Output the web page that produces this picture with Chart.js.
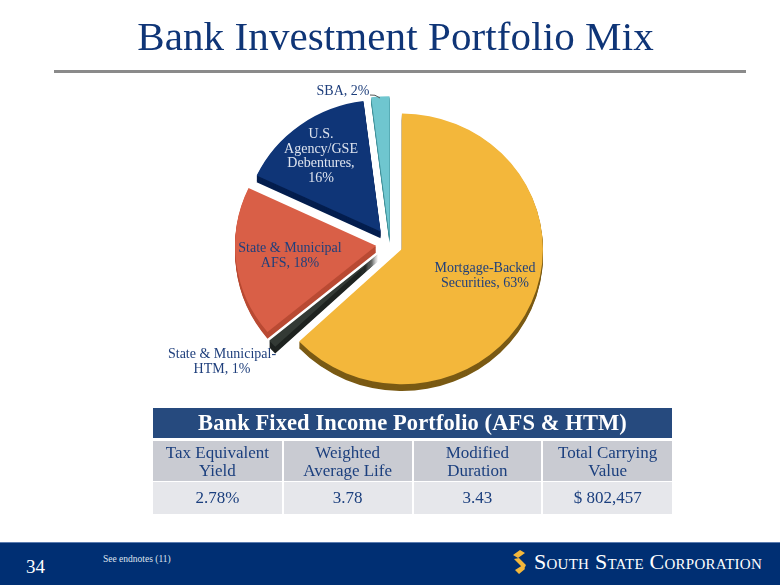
<!DOCTYPE html>
<html lang="en">
<head>
    <meta charset="UTF-8">
    <title>Bank Investment Portfolio Mix</title>
    <script src="https://cdn.jsdelivr.net/npm/chart.js"></script>
    <style>
        html, body { margin: 0; padding: 0; background: #fff; }
        #page { position: relative; width: 780px; height: 585px; overflow: hidden; font-family: "Liberation Serif", serif; }
        #page > * { position: absolute; }
        #title { left: 0; width: 791px; top: 11px; text-align: center; font-size: 41px; line-height: 50px; color: #0F3577; letter-spacing: 0.1px; white-space: nowrap; }
        #rule { left: 54px; top: 70px; width: 692px; height: 2.5px; background: #8a8a8a; }
        #grafico { left: 0; top: 0; }
        .lab { font-size: 14px; line-height: 14.7px; text-align: center; white-space: nowrap; transform: translateX(-50%); }
        #tabella { left: 153px; top: 408px; width: 519px; border-collapse: collapse; table-layout: fixed; color: #1B3F7E; text-align: center; }
        #tabella th { background: #264A7E; color: #fff; height: 30px; padding: 0; font-size: 22.5px; border-bottom: 3px solid #fff; letter-spacing: 0.1px; }
        #tabella td { padding: 0; border-left: 2px solid #fff; font-size: 17px; line-height: 18px; }
        #tabella td:first-child { border-left: 0; }
        #tabella .r1 td { background: #C9CBD2; height: 42px; border-bottom: 1px solid #fff; padding-top: 2px; box-sizing: border-box; }
        #tabella .r2 td { background: #E6E7EB; height: 32px; padding-bottom: 0; }
        #footer { left: 0; top: 542px; width: 780px; height: 43px; background: #002F73; border-top: 1px solid #5B7CB0; box-sizing: border-box; }
        #pag { left: 26px; top: 556px; font-size: 19px; line-height: 22px; color: #fff; }
        #note { left: 103px; top: 553px; font-size: 9.5px; line-height: 12px; color: #dfe4ee; }
        #azienda { left: 534px; top: 547px; font-size: 22px; line-height: 30px; color: #fff; font-variant: small-caps; white-space: nowrap; letter-spacing: 0.25px; }
    </style>
</head>
<body>
<div id="page">
    <canvas id="grafico" width="780" height="488"></canvas>
    <div id="title">Bank Investment Portfolio Mix</div>
    <div id="rule"></div>
    <svg style="left:0;top:0" width="780" height="120"><path d="M370 95 Q375 94 380 98" fill="none" stroke="#555" stroke-width="1"/></svg>
    <table id="tabella">
        <tr><th colspan="4">Bank Fixed Income Portfolio (AFS &amp; HTM)</th></tr>
        <tr class="r1" id="rigaHead"></tr>
        <tr class="r2" id="rigaVal"></tr>
    </table>
    <div id="footer"></div>
    <div id="pag">34</div>
    <div id="note">See endnotes (11)</div>
    <svg style="left:510px;top:548px" width="20" height="30"><path d="M3 7 L10 2 L15 5 L8 10 Z M4 11 L9 10 L16 17 L14 21 Z M5 22 L13 17 L15 21 L9 26 Z" fill="#F3B73B"/></svg>
    <div id="azienda">South State Corporation</div>
</div>
<script>
    // Pie data, clockwise from 12 o'clock
    const categorie = ['Mortgage-Backed Securities', 'State & Municipal-HTM', 'State & Municipal AFS', 'U.S. Agency/GSE Debentures', 'SBA'];
    const valori = [63, 1, 18, 16, 2];

    // Table data
    const intestazioni = ['Tax Equivalent<br>Yield', 'Weighted<br>Average Life', 'Modified<br>Duration', 'Total Carrying<br>Value'];
    const valoriTabella = ['2.78%', '3.78', '3.43', '$ 802,457'];

    const colori = ['#F3B73B', '#333A35', '#D95F47', '#0F3577', '#6FC6CF'];
    const coloriBordo = ['#7A5A14', '#1E2320', '#B94A33', '#041E4E', '#3F8F98'];
    const stacchi = [13, 16, 14, 16, 8];         // explode distance of each slice
    const raggi = [141, 141, 141, 137, 146];     // slices are not quite the same size in the picture

    // Slice labels: text lines, x centre, y top, colour
    const etichette = [
        { righe: ['Mortgage-Backed', 'Securities, 63%'], x: 485, y: 261, c: '#1F3F7C' },
        { righe: ['State & Municipal-', 'HTM, 1%'], x: 222, y: 347, c: '#1F3F7C' },
        { righe: ['State & Municipal', 'AFS, 18%'], x: 290, y: 241, c: '#1F3F7C' },
        { righe: ['U.S.', 'Agency/GSE', 'Debentures,', '16%'], x: 321, y: 127, c: '#DDE3EE' },
        { righe: ['SBA, 2%'], x: 343, y: 84, c: '#1F3F7C' }
    ];

    const pagina = document.getElementById('page');
    etichette.forEach(e => {
        const d = document.createElement('div');
        d.className = 'lab';
        d.style.left = e.x + 'px';
        d.style.top = e.y + 'px';
        d.style.color = e.c;
        d.innerHTML = e.righe.map(r => r.replace('&', '&amp;')).join('<br>');
        pagina.appendChild(d);
    });
    document.getElementById('rigaHead').innerHTML = intestazioni.map(t => '<td>' + t + '</td>').join('');
    document.getElementById('rigaVal').innerHTML = valoriTabella.map(t => '<td>' + t + '</td>').join('');

    const schiaccia = 0.96;   // pie is slightly tilted
    const spessore = 7;       // depth of the 3D edge

    // Draws one arc moved out along its own mid angle
    function disegnaArco(ctx, arc, i, dy, colore) {
        const medio = (arc.startAngle + arc.endAngle) / 2;
        const orig = arc.options;
        const raggioOrig = arc.outerRadius;
        arc.options = Object.assign({}, orig, { backgroundColor: colore, borderWidth: 0 });
        arc.outerRadius = raggi[i];
        ctx.save();
        ctx.translate(Math.cos(medio) * stacchi[i], Math.sin(medio) * stacchi[i] + dy);
        arc.draw(ctx);
        ctx.restore();
        arc.options = orig;
        arc.outerRadius = raggioOrig;
    }

    const pie3d = {
        id: 'pie3d',
        beforeDatasetsDraw(chart) {
            const ctx = chart.ctx;
            const arcs = chart.getDatasetMeta(0).data;
            const cx = arcs[0].x, cy = arcs[0].y;
            ctx.save();
            ctx.translate(cx, cy);
            ctx.scale(1, schiaccia);
            ctx.translate(-cx, -cy);
            // darker copies underneath, then the top faces
            for (let s = spessore; s > 0; s--) {
                arcs.forEach((arc, i) => disegnaArco(ctx, arc, i, s, coloriBordo[i]));
            }
            arcs.forEach((arc, i) => disegnaArco(ctx, arc, i, 0, colori[i]));
            ctx.restore();
            return false;
        }
    };

    new Chart(document.getElementById('grafico').getContext('2d'), {
        type: 'pie',
        data: {
            labels: categorie,
            datasets: [{
                data: valori,
                backgroundColor: colori,
                borderWidth: 0
            }]
        },
        options: {
            responsive: false,
            animation: false,
            radius: 141,
            plugins: { legend: { display: false }, tooltip: { enabled: false } }
        },
        plugins: [pie3d]
    });
</script>
</body>
</html>
